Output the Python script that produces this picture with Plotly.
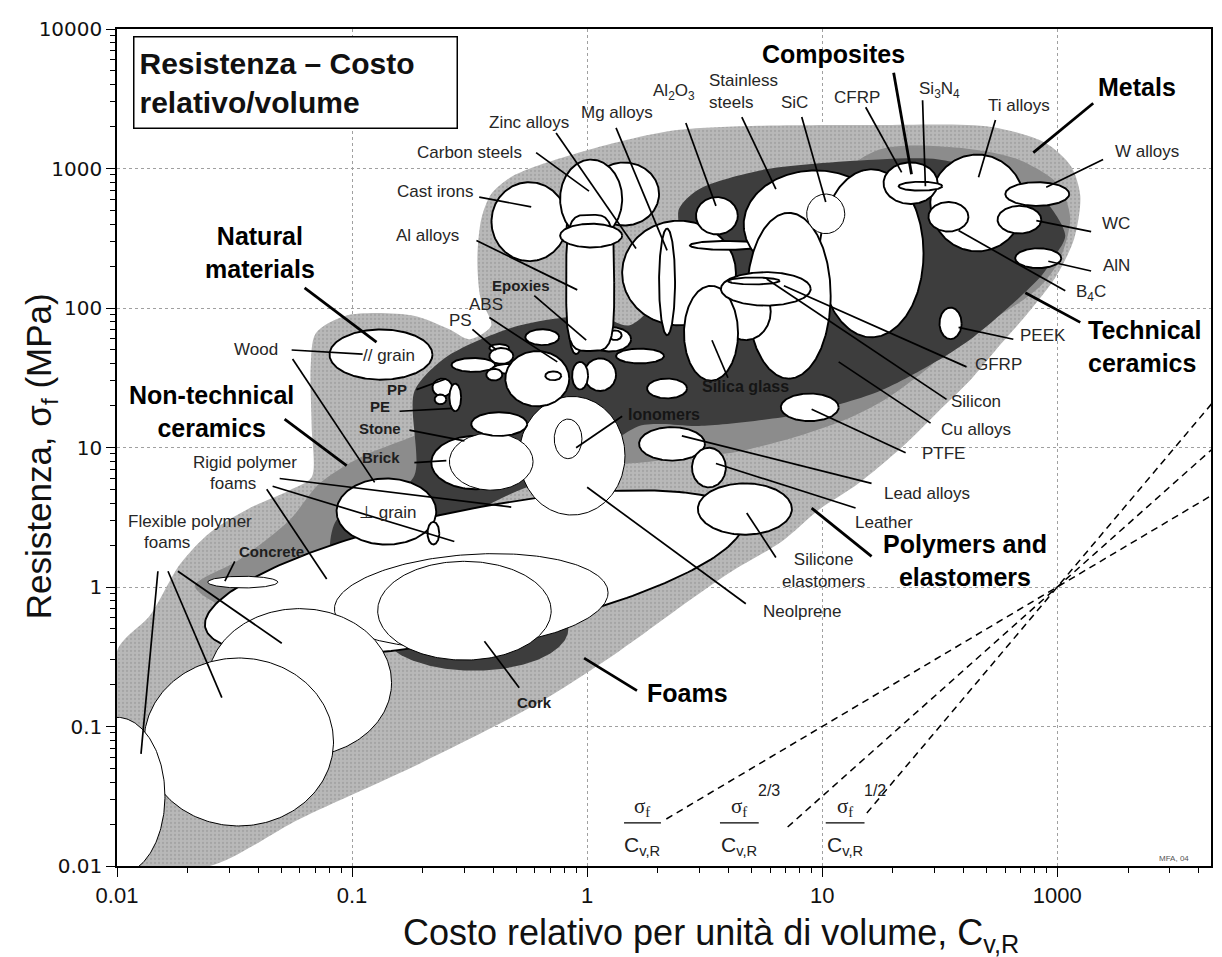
import numpy as np
import plotly.graph_objects as go

# ======================= DATA (log10 units) =======================
# Family envelopes: vertices as log10(C_v,R) and log10(sigma_f / MPa)
light_env_logc = [-2.000, -2.000, -1.860, -1.732, -1.605, -1.435, -1.265, -1.172, -1.172, -1.176, -1.155,
                  -1.023, -0.743, -0.586, -0.501, -0.408, -0.454, -0.467, -0.450, -0.408, -0.318, -0.034,
                  0.391, 1.240, 1.720, 1.949, 2.059, 2.098, 2.072, 1.996, 1.877, 1.749, 1.639, 1.495,
                  1.346, 1.155, 0.985, 0.828, 0.616, 0.433, 0.136, -0.204, -0.713, -1.223, -1.605]
light_env_logs = [-2.000, -0.460, -0.205, 0.163, 0.389, 0.566, 0.694, 0.786, 1.154, 1.578, 1.818,
                  1.946, 1.946, 1.847, 1.776, 1.875, 2.074, 2.357, 2.640, 2.817, 2.944, 3.114,
                  3.277, 3.312, 3.298, 3.184, 3.015, 2.803, 2.498, 2.229, 1.967, 1.720, 1.500, 1.260,
                  1.012, 0.743, 0.552, 0.326, 0.113, -0.099, -0.460, -0.828, -1.267, -1.663, -2.000]

nontech_env_logc = [-1.669, -1.478, -1.265, -1.138, -0.968, -0.756, -0.514, -0.374, -0.289, -0.501,
                    -0.713, -0.968, -1.265, -1.520]
nontech_env_logs = [0.007, 0.198, 0.481, 0.743, 0.927, 1.069, 1.246, 1.330, 1.012, 0.658,
                    0.375, 0.092, -0.120, -0.156]

techcer_env_logc = [0.051, 0.476, 0.616, 0.900, 1.113, 1.274, 1.431, 1.567, 1.707, 1.856, 1.941, 2.013,
                    2.055, 2.004, 1.834, 1.580, 1.240, 0.900, 0.476, 0.136]
techcer_env_logs = [0.906, 0.941, 0.962, 1.083, 1.210, 1.352, 1.543, 1.741, 1.897, 2.059, 2.180, 2.357,
                    2.647, 2.887, 3.065, 3.149, 3.135, 2.711, 1.861, 1.224]

dark_env_logc = [-1.083, -1.066, -0.883, -0.735, -0.735, -0.599, -0.318, -0.098, 0.051, 0.178, 0.306, 0.391,
                 0.391, 0.476, 0.760, 1.240, 1.495, 1.749, 1.941, 2.034, 1.983, 1.932, 1.792, 1.643,
                 1.490, 1.240, 0.904, 0.476, 0.318, 0.221, 0.051, -0.119, -0.289, -0.459, -0.671, -0.798]
dark_env_logs = [0.191, 0.481, 0.587, 0.800, 1.401, 1.649, 1.861, 1.932, 1.946, 1.875, 2.074, 2.498,
                 2.711, 2.852, 2.994, 3.065, 3.065, 2.958, 2.781, 2.519, 2.357, 2.229, 2.003, 1.791,
                 1.621, 1.401, 1.238, 1.154, 1.168, 1.154, 0.977, 0.800, 0.694, 0.552, 0.269, 0.191]

cork_shadow = (-0.480, -0.300, 0.400, 0.300)

# Material bubbles: (name, log10 C centre, log10 sigma centre, half-span log10 C, half-span log10 sigma)
foam_bubbles = [
    ("Rigid polymer foam (dense)", -0.480, 0.099, 1.146, 0.467),
    ("Rigid polymer foam (medium)", -0.493, -0.099, 0.582, 0.333),
    ("Cork", -0.522, -0.170, 0.369, 0.354),
    ("Flexible foam (stiff)", -1.223, -0.686, 0.391, 0.531),
    ("Flexible foam (medium)", -1.482, -1.111, 0.403, 0.602),
    ("Flexible foam (soft)", -2.000, -1.500, 0.204, 0.566),
    ("Concrete", -1.465, 0.035, 0.149, 0.042),
]
natural_bubbles = [
    ("Wood // grain", -0.877, 1.666, 0.219, 0.180),
    ("Wood perp. grain", -0.854, 0.541, 0.212, 0.237),
    ("Balsa", -0.654, 0.386, 0.025, 0.081),
]
polymer_bubbles = [
    ("Ionomers", -0.064, 0.941, 0.225, 0.425),
    ("Ionomers core", -0.081, 1.062, 0.059, 0.142),
    ("Brick", -0.476, 0.892, 0.187, 0.191),
    ("Stone", -0.408, 0.899, 0.178, 0.205),
    ("Stone (dense)", -0.374, 1.168, 0.119, 0.085),
    ("PP", -0.616, 1.430, 0.042, 0.064),
    ("PE", -0.561, 1.359, 0.025, 0.099),
    ("PE-LD", -0.624, 1.345, 0.025, 0.035),
    ("PS", -0.484, 1.592, 0.093, 0.050),
    ("PMMA", -0.374, 1.713, 0.042, 0.028),
    ("ABS", -0.365, 1.656, 0.051, 0.057),
    ("PC", -0.331, 1.564, 0.072, 0.035),
    ("PVC", -0.395, 1.522, 0.034, 0.042),
    ("PA", -0.212, 1.493, 0.136, 0.198),
    ("PET", -0.191, 1.791, 0.072, 0.057),
    ("PU", -0.144, 1.514, 0.034, 0.032),
    ("Epoxies", -0.047, 1.819, 0.028, 0.149),
    ("Phenolics", 0.098, 1.776, 0.089, 0.088),
    ("Polyester", 0.119, 1.805, 0.028, 0.035),
    ("PTFE filled", 0.225, 1.656, 0.102, 0.053),
    ("POM", 0.055, 1.522, 0.068, 0.117),
    ("PMMA cast", -0.030, 1.515, 0.034, 0.099),
    ("Soda glass", 0.340, 1.423, 0.085, 0.071),
    ("Lead alloys", 0.361, 1.026, 0.140, 0.120),
    ("Leather", 0.518, 0.856, 0.072, 0.142),
    ("Silicone elastomers", 0.671, 0.559, 0.200, 0.184),
    ("PTFE", 0.947, 1.288, 0.123, 0.099),
    ("PEEK", 1.546, 1.890, 0.047, 0.113),
]
metal_ceramic_bubbles = [
    ("Mg alloys", 0.391, 2.251, 0.242, 0.375),
    ("Mg alloys (wrought)", 0.340, 2.187, 0.034, 0.382),
    ("Cast irons", -0.246, 2.619, 0.161, 0.283),
    ("Zinc alloys", 0.157, 2.817, 0.149, 0.226),
    ("Carbon steels", 0.017, 2.781, 0.132, 0.283),
    ("Al alloys", 0.013, 2.180, 0.102, 0.488),
    ("Low alloy steels", 0.017, 2.519, 0.132, 0.085),
    ("Al2O3", 0.552, 2.661, 0.089, 0.134),
    ("Alumina fibre", 0.594, 2.449, 0.157, 0.032),
    ("Stainless steels", 0.972, 2.597, 0.306, 0.389),
    ("Ni alloys", 1.210, 2.392, 0.221, 0.602),
    ("Cu alloys", 0.858, 2.088, 0.178, 0.594),
    ("Borosilicate glass", 0.675, 1.975, 0.106, 0.205),
    ("Silica glass", 0.527, 1.819, 0.115, 0.340),
    ("GFRP", 0.760, 2.137, 0.191, 0.120),
    ("Silicon", 0.709, 2.194, 0.110, 0.025),
    ("SiC", 1.015, 2.675, 0.081, 0.142),
    ("Ti alloys", 1.660, 2.753, 0.200, 0.347),
    ("CFRP", 1.376, 2.895, 0.115, 0.149),
    ("Si3N4", 1.418, 2.873, 0.093, 0.032),
    ("W alloys", 1.915, 2.817, 0.136, 0.085),
    ("WC", 1.839, 2.633, 0.093, 0.099),
    ("B4C", 1.537, 2.654, 0.085, 0.106),
    ("AlN", 1.919, 2.357, 0.098, 0.071),
]
bubble_tilt = {"Rigid polymer foam (dense)": 0.32, "Rigid polymer foam (medium)": 0.10}
bubble_power = {"Al alloys": 4.0}

# Guide lines sigma_f/C, sigma_f^(2/3)/C, sigma_f^(1/2)/C  -> log-log slopes
guide_slopes = [1.0, 1.5, 2.0]
guide_pivot = (2.0, 0.0)
guide_start_logc = [0.337, 0.853, 1.19]

x_tickvals = [0.01, 0.1, 1, 10, 100]
x_ticktext = ["0.01", "0.1", "1", "10", "1000"]
y_tickvals = [0.01, 0.1, 1, 10, 100, 1000, 10000]
y_ticktext = ["0.01", "0.1", "1", "10", "100", "1000", "10000"]

# Leader lines (from label to bubble), log10 units
leaders_thin = [
    (-0.459, 2.795, -0.238, 2.725), (-0.217, 3.114, 0.008, 2.838), (-0.132, 3.255, 0.208, 2.427),
    (0.123, 3.291, 0.340, 2.413), (0.420, 3.326, 0.548, 2.732), (0.658, 3.369, 0.803, 2.852),
    (0.913, 3.369, 1.015, 2.760), (1.185, 3.439, 1.338, 2.972), (1.427, 3.489, 1.439, 2.873),
    (1.737, 3.347, 1.665, 2.937), (2.195, 3.065, 1.953, 2.866), (2.144, 2.548, 1.911, 2.626),
    (2.144, 2.265, 1.962, 2.335), (2.034, 2.123, 1.580, 2.555), (1.813, 1.776, 1.580, 1.861),
    (1.614, 1.578, 0.837, 2.159), (1.529, 1.345, 0.764, 2.208), (1.461, 1.175, 1.070, 1.614),
    (1.355, 0.962, 0.955, 1.274), (1.210, 0.743, 0.403, 1.083), (1.142, 0.566, 0.548, 0.885),
    (0.803, 0.212, 0.679, 0.531), (0.675, -0.120, 0.000, 0.715), (0.149, 1.224, -0.047, 0.998),
    (0.599, 1.500, 0.531, 1.769), (-0.289, -0.722, -0.437, -0.389), (-1.499, 0.184, -1.541, 0.042),
    (-1.826, 0.113, -1.898, -1.196), (-1.783, 0.113, -1.554, -0.793), (-1.741, 0.113, -1.299, -0.403),
    (-1.308, 0.778, -0.323, 0.573), (-1.338, 0.722, -0.565, 0.326), (-1.363, 0.701, -1.108, 0.057),
    (-1.257, 1.699, -0.955, 1.670), (-1.253, 1.635, -0.904, 0.750), (-0.726, 1.415, -0.599, 1.493),
    (-0.798, 1.260, -0.573, 1.281), (-0.756, 1.125, -0.522, 1.047), (-0.735, 0.892, -0.599, 0.906),
    (-0.488, 1.847, -0.386, 1.699), (-0.416, 1.932, -0.127, 1.614), (-0.225, 2.088, -0.004, 1.769),
    (-0.471, 2.484, -0.042, 2.130),
]
leaders_thick = [
    (1.304, 3.687, 1.380, 2.958), (2.153, 3.468, 1.898, 3.114), (2.098, 1.897, 1.864, 2.109),
    (1.210, 0.219, 0.955, 0.566), (0.212, -0.743, -0.013, -0.510), (-1.287, 1.203, -1.023, 0.870),
    (-1.202, 2.144, -0.896, 1.755),
]

family_labels = [
    ("Composites", 1.049, 3.822, "center"), ("Metals", 2.340, 3.581, "center"),
    ("Natural<br>materials", -1.393, 2.399, "center"), ("Non-technical<br>ceramics", -1.597, 1.260, "center"),
    ("Technical<br>ceramics", 2.123, 1.727, "left"), ("Polymers and<br>elastomers", 1.609, 0.191, "center"),
    ("Foams", 0.425, -0.757, "center"),
]
material_labels = [
    ("Cast irons", -0.645, 2.838, "center"), ("Carbon steels", -0.501, 3.114, "center"),
    ("Zinc alloys", -0.246, 3.333, "center"), ("Mg alloys", 0.127, 3.404, "center"),
    ("Al<sub>2</sub>O<sub>3</sub>", 0.369, 3.546, "center"), ("Stainless<br>steels", 0.510, 3.553, "left"),
    ("SiC", 0.883, 3.475, "center"), ("CFRP", 1.146, 3.510, "center"),
    ("Si<sub>3</sub>N<sub>4</sub>", 1.499, 3.560, "center"), ("Ti alloys", 1.839, 3.454, "center"),
    ("W alloys", 2.382, 3.121, "center"), ("WC", 2.250, 2.604, "center"), ("AlN", 2.250, 2.307, "center"),
    ("B<sub>4</sub>C", 2.144, 2.109, "center"), ("PEEK", 1.941, 1.805, "center"),
    ("GFRP", 1.749, 1.592, "center"), ("Silicon", 1.656, 1.331, "center"),
    ("Cu alloys", 1.656, 1.132, "center"), ("PTFE", 1.516, 0.955, "center"),
    ("Lead alloys", 1.444, 0.672, "center"), ("Leather", 1.261, 0.460, "center"),
    ("Silicone<br>elastomers", 1.006, 0.120, "center"), ("Neolprene", 0.913, -0.177, "center"),
    ("Flexible polymer", -1.690, 0.467, "center"), ("foams", -1.788, 0.318, "center"),
    ("Rigid polymer", -1.456, 0.892, "center"), ("foams", -1.507, 0.743, "center"),
    ("Wood", -1.410, 1.706, "center"), ("// grain", -0.845, 1.663, "center"),
    ("\u22a5 grain", -0.849, 0.531, "center"), ("PS", -0.539, 1.911, "center"),
    ("ABS", -0.429, 2.024, "center"), ("Al alloys", -0.679, 2.519, "center"),
]
bold_small_labels = [
    ("PP", -0.807, 1.415), ("PE", -0.883, 1.295), ("Stone", -0.883, 1.139), ("Brick", -0.879, 0.927),
    ("Epoxies", -0.280, 2.159), ("Cork", -0.225, -0.828), ("Concrete", -1.342, 0.255),
]
shadow_labels = [("Ionomers", 0.327, 1.238), ("Silica glass", 0.675, 1.437)]

fraction_numerator_logc = [0.234, 0.645, 1.096]
fraction_exponents = ["", "2/3", "1/2"]
fraction_bar_logc = [(0.157, 0.314), (0.565, 0.730), (1.015, 1.180)]

# ======================= STYLE =======================
LIGHT, MEDIUM, DARK = "#b8b8b8", "#8c8c8c", "#3d3d3d"
thin_outline = {"Rigid polymer foam (medium)", "Cork", "Concrete", "Ionomers", "Ionomers core", "Stone",
                "SiC", "Flexible foam (stiff)", "Flexible foam (medium)", "Flexible foam (soft)"}
SANS = "Liberation Sans, Arial, sans-serif"
SERIF = "Liberation Serif, Times New Roman, serif"

fig = go.Figure()


def closed(seq):
    seq = list(seq)
    return seq + seq[:1]


def add_region(logc, logs, color, stipple=False):
    kw = {}
    if stipple:
        kw["fillpattern"] = dict(shape=".", bgcolor=color, fgcolor="#8f8f8f", size=4, solidity=0.25)
    fig.add_trace(go.Scatter(
        x=[10 ** v for v in closed(logc)], y=[10 ** v for v in closed(logs)],
        mode="lines", fill="toself", fillcolor=color,
        line=dict(width=0, color=color, shape="spline", smoothing=0.8),
        hoverinfo="skip", showlegend=False, **kw))


def bubble_path(name, lc, ls, rc, rs):
    t = np.linspace(0, 2 * np.pi, 241)
    c, s = np.cos(t), np.sin(t)
    p = bubble_power.get(name, 2.0)
    if p != 2.0:
        c = np.sign(c) * np.abs(c) ** (2 / p)
        s = np.sign(s) * np.abs(s) ** (2 / p)
    k = bubble_tilt.get(name, 0.0)
    lx = lc + rc * c
    ly = ls + rs * s + k * rc * c
    return 10 ** lx, 10 ** ly


def add_bubbles(bubbles):
    for name, lc, ls, rc, rs in bubbles:
        x, y = bubble_path(name, lc, ls, rc, rs)
        fig.add_trace(go.Scatter(
            x=x, y=y, mode="lines", fill="toself", fillcolor="white",
            line=dict(color="black", width=1.0 if name in thin_outline else 1.9),
            name=name, hoverinfo="skip", showlegend=False))


def add_segments(segs, width, dash=None):
    xs, ys = [], []
    for c0, s0, c1, s1 in segs:
        xs += [10 ** c0, 10 ** c1, None]
        ys += [10 ** s0, 10 ** s1, None]
    fig.add_trace(go.Scatter(x=xs, y=ys, mode="lines",
                             line=dict(color="black", width=width, dash=dash),
                             hoverinfo="skip", showlegend=False))


# envelopes
add_region(light_env_logc, light_env_logs, LIGHT, stipple=True)
add_region(nontech_env_logc, nontech_env_logs, MEDIUM)
add_region(techcer_env_logc, techcer_env_logs, MEDIUM)
add_region(dark_env_logc, dark_env_logs, DARK)
sx, sy = bubble_path("shadow", *cork_shadow)
fig.add_trace(go.Scatter(x=sx, y=sy, mode="lines", fill="toself", fillcolor=DARK,
                         line=dict(width=0, color=DARK), hoverinfo="skip", showlegend=False))

# bubbles
add_bubbles(foam_bubbles)
add_bubbles(natural_bubbles)
add_bubbles(polymer_bubbles)
add_bubbles(metal_ceramic_bubbles)

# leaders
add_segments(leaders_thin, 1.7)
add_segments(leaders_thick, 2.8)

# guide lines
x_end = 2.66
guide_segs = []
for slope, start in zip(guide_slopes, guide_start_logc):
    guide_segs.append((start, guide_pivot[1] + slope * (start - guide_pivot[0]),
                       x_end, guide_pivot[1] + slope * (x_end - guide_pivot[0])))
add_segments(guide_segs, 1.5, dash="7px,5px")

# fraction bars for guide-line labels
bar_log_s = -1.691
add_segments([(a, bar_log_s, b, bar_log_s) for a, b in fraction_bar_logc], 1.2)

annotations = []
for text, lx, ly, align in family_labels:
    annotations.append(dict(x=lx, y=ly, xref="x", yref="y", text="<b>%s</b>" % text, showarrow=False,
                            align=align, xanchor="left" if align == "left" else "center",
                            font=dict(family=SANS, size=25, color="black")))
for text, lx, ly, align in material_labels:
    annotations.append(dict(x=lx, y=ly, xref="x", yref="y", text=text, showarrow=False, align=align,
                            xanchor="left" if align == "left" else "center",
                            font=dict(family=SANS, size=17, color="#262626")))
for text, lx, ly in bold_small_labels:
    annotations.append(dict(x=lx, y=ly, xref="x", yref="y", text="<b>%s</b>" % text, showarrow=False,
                            font=dict(family=SANS, size=15, color="#1e1e1e")))
for text, lx, ly in shadow_labels:
    annotations.append(dict(x=lx, y=ly, xref="x", yref="y", text="<b>%s</b>" % text, showarrow=False,
                            font=dict(family=SANS, size=16, color="#151515")))
for lx, expo in zip(fraction_numerator_logc, fraction_exponents):
    annotations.append(dict(x=lx, y=-1.578, xref="x", yref="y", text="\u03c3<sub>f</sub>", showarrow=False,
                            font=dict(family=SERIF, size=21, color="#222")))
    annotations.append(dict(x=lx, y=-1.858, xref="x", yref="y", text="C<sub>v,R</sub>", showarrow=False,
                            font=dict(family=SANS, size=21, color="#222")))
    if expo:
        annotations.append(dict(x=lx + 0.13, y=-1.462, xref="x", yref="y", text=expo, showarrow=False,
                                font=dict(family=SANS, size=16, color="#222")))
annotations.append(dict(x=2.497, y=-1.946, xref="x", yref="y", text="MFA, 04", showarrow=False,
                        font=dict(family=SANS, size=8, color="#555")))

# title box
annotations.append(dict(x=0.0146, y=0.992, xref="paper", yref="paper", xanchor="left", yanchor="top",
                        text="<b>Resistenza \u2013 Costo<br>relativo/volume</b>", showarrow=False,
                        align="left", width=312, height=80, borderpad=5, bordercolor="black",
                        borderwidth=1.5, bgcolor="white", font=dict(family=SANS, size=30, color="#111")))
# axis titles
annotations.append(dict(x=0.543, y=-0.083, xref="paper", yref="paper", xanchor="center", yanchor="middle",
                        text="Costo relativo per unit\u00e0 di volume, C<sub>v,R</sub>", showarrow=False,
                        font=dict(family=SANS, size=36, color="#111")))
annotations.append(dict(x=-0.070, y=0.49, xref="paper", yref="paper", xanchor="center", yanchor="middle",
                        textangle=-90, text="Resistenza, \u03c3<sub>f</sub> (MPa)", showarrow=False,
                        font=dict(family=SANS, size=35, color="#111")))

axis_common = dict(type="log", showline=True, mirror=True, linecolor="black", linewidth=1.5,
                   ticks="outside", tickcolor="black", tickwidth=1.3, ticklen=9,
                   ticklabeloverflow="allow",
                   showgrid=True, gridcolor="#a0a0a0", griddash="dot", gridwidth=1, zeroline=False,
                   minor=dict(ticks="outside", ticklen=5, tickwidth=1, tickcolor="black",
                              dtick="D1", showgrid=False))

# the page body adds an 8 px margin, so the figure is 8 px smaller than the window
fig.update_layout(
    width=1214, height=949, autosize=False,
    margin=dict(l=109, r=9, t=10, b=91),
    paper_bgcolor="white", plot_bgcolor="white",
    showlegend=False,
    xaxis=dict(range=[-2, 2.654], tickmode="array", tickvals=x_tickvals, ticktext=x_ticktext,
               tickfont=dict(family=SANS, size=22, color="#111"), **axis_common),
    yaxis=dict(range=[-2, 4], tickmode="array", tickvals=y_tickvals, ticktext=y_ticktext,
               tickfont=dict(family="DejaVu Sans, sans-serif", size=20, color="#111"), **axis_common),
    annotations=annotations,
)

fig.write_html("out.html")
